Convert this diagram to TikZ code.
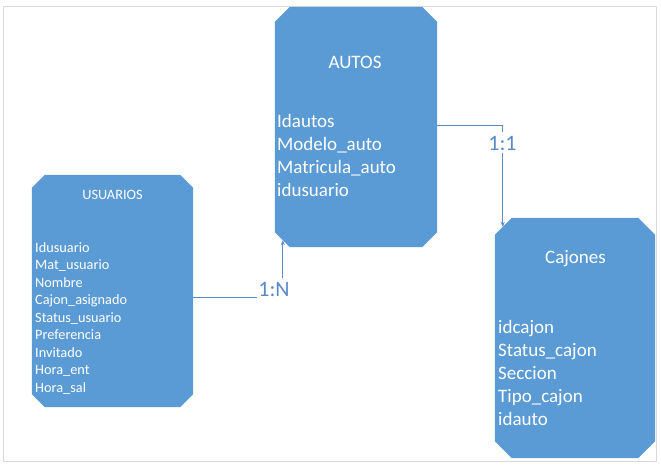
\documentclass[tikz,border=0pt]{standalone}
\usepackage{fontspec}
\setmainfont{Carlito}
\usetikzlibrary{arrows.meta}
\definecolor{boxblue}{HTML}{5B9BD5}
\definecolor{linkblue}{HTML}{5A8AC6}
\definecolor{framegray}{HTML}{D9D9D9}
\tikzset{
  entity/.style={rectangle, draw=none, fill=none, inner sep=0pt},
  bigtxt/.style={text=white, inner sep=0pt, font=\fontsize{19}{23}\selectfont},
  smalltxt/.style={text=white, inner sep=0pt, font=\fontsize{14.3}{17.5}\selectfont},
  conn/.style={draw=linkblue, line width=0.8pt, -{Stealth[length=5pt,width=4pt]}},
  card/.style={text=linkblue, fill=white, font=\fontsize{22}{26}\selectfont,
    inner xsep=1pt, inner ysep=2pt, text height=16pt, text depth=1pt, anchor=base}
}
\newcommand\chambox[2]{%
  \fill[boxblue] ([xshift=#2]#1.north west) -- ([xshift=-#2]#1.north east)
    -- ([yshift=-#2]#1.north east) -- ([yshift=#2]#1.south east)
    -- ([xshift=-#2]#1.south east) -- ([xshift=#2]#1.south west)
    -- ([yshift=#2]#1.south west) -- ([yshift=-#2]#1.north west) -- cycle;}
\begin{document}
\begin{tikzpicture}[x=1pt,y=-1pt]
\useasboundingbox (0,0) rectangle (661,466);
\draw[framegray, line width=0.8pt] (3,6) rectangle (656,461);

% boxes
\node[entity, minimum width=162pt, minimum height=240pt] (autos) at (356,127) {};
\node[entity, minimum width=161pt, minimum height=232pt] (usuarios) at (112.5,291) {};
\node[entity, minimum width=160pt, minimum height=240pt] (cajones) at (575,338) {};
\chambox{autos}{15pt}
\chambox{usuarios}{13pt}
\chambox{cajones}{17pt}

% AUTOS text
\node[bigtxt, anchor=base] (autosT) at (355,68.5) {AUTOS};
\node[bigtxt, anchor=base west] (a1) at (277,127) {Idautos};
\node[bigtxt, anchor=base west] (a2) at (277,150) {Modelo\_auto};
\node[bigtxt, anchor=base west] (a3) at (277,173) {Matricula\_auto};
\node[bigtxt, anchor=base west] (a4) at (277,196) {idusuario};

% USUARIOS text
\node[smalltxt, anchor=base] (usT) at (112.5,199.5) {USUARIOS};
\node[smalltxt, anchor=base west] (u1) at (35,252) {Idusuario};
\node[smalltxt, anchor=base west] (u2) at (35,269.5) {Mat\_usuario};
\node[smalltxt, anchor=base west] (u3) at (35,287) {Nombre};
\node[smalltxt, anchor=base west] (u4) at (35,304.5) {Cajon\_asignado};
\node[smalltxt, anchor=base west] (u5) at (35,322) {Status\_usuario};
\node[smalltxt, anchor=base west] (u6) at (35,339.5) {Preferencia};
\node[smalltxt, anchor=base west] (u7) at (35,357) {Invitado};
\node[smalltxt, anchor=base west] (u8) at (35,374.5) {Hora\_ent};
\node[smalltxt, anchor=base west] (u9) at (35,392) {Hora\_sal};

% Cajones text
\node[bigtxt, anchor=base] (cajT) at (575.5,263.5) {Cajones};
\node[bigtxt, anchor=base west] (c1) at (498,333) {idcajon};
\node[bigtxt, anchor=base west] (c2) at (498,356) {Status\_cajon};
\node[bigtxt, anchor=base west] (c3) at (498,379) {Seccion};
\node[bigtxt, anchor=base west] (c4) at (498,402) {Tipo\_cajon};
\node[bigtxt, anchor=base west] (c5) at (498,425) {idauto};

% connectors
\draw[conn] ([yshift=-6pt]usuarios.east) -| ([xshift=8pt,yshift=7pt]autos.south west);
\draw[conn] ([yshift=2pt]autos.east) -| ([xshift=8pt,yshift=-9pt]cajones.north west);

% cardinalities
\node[card] (cardN) at (274,296) {1:N};
\node[card] (card1) at (502.5,150) {1:1};
\end{tikzpicture}
\end{document}
